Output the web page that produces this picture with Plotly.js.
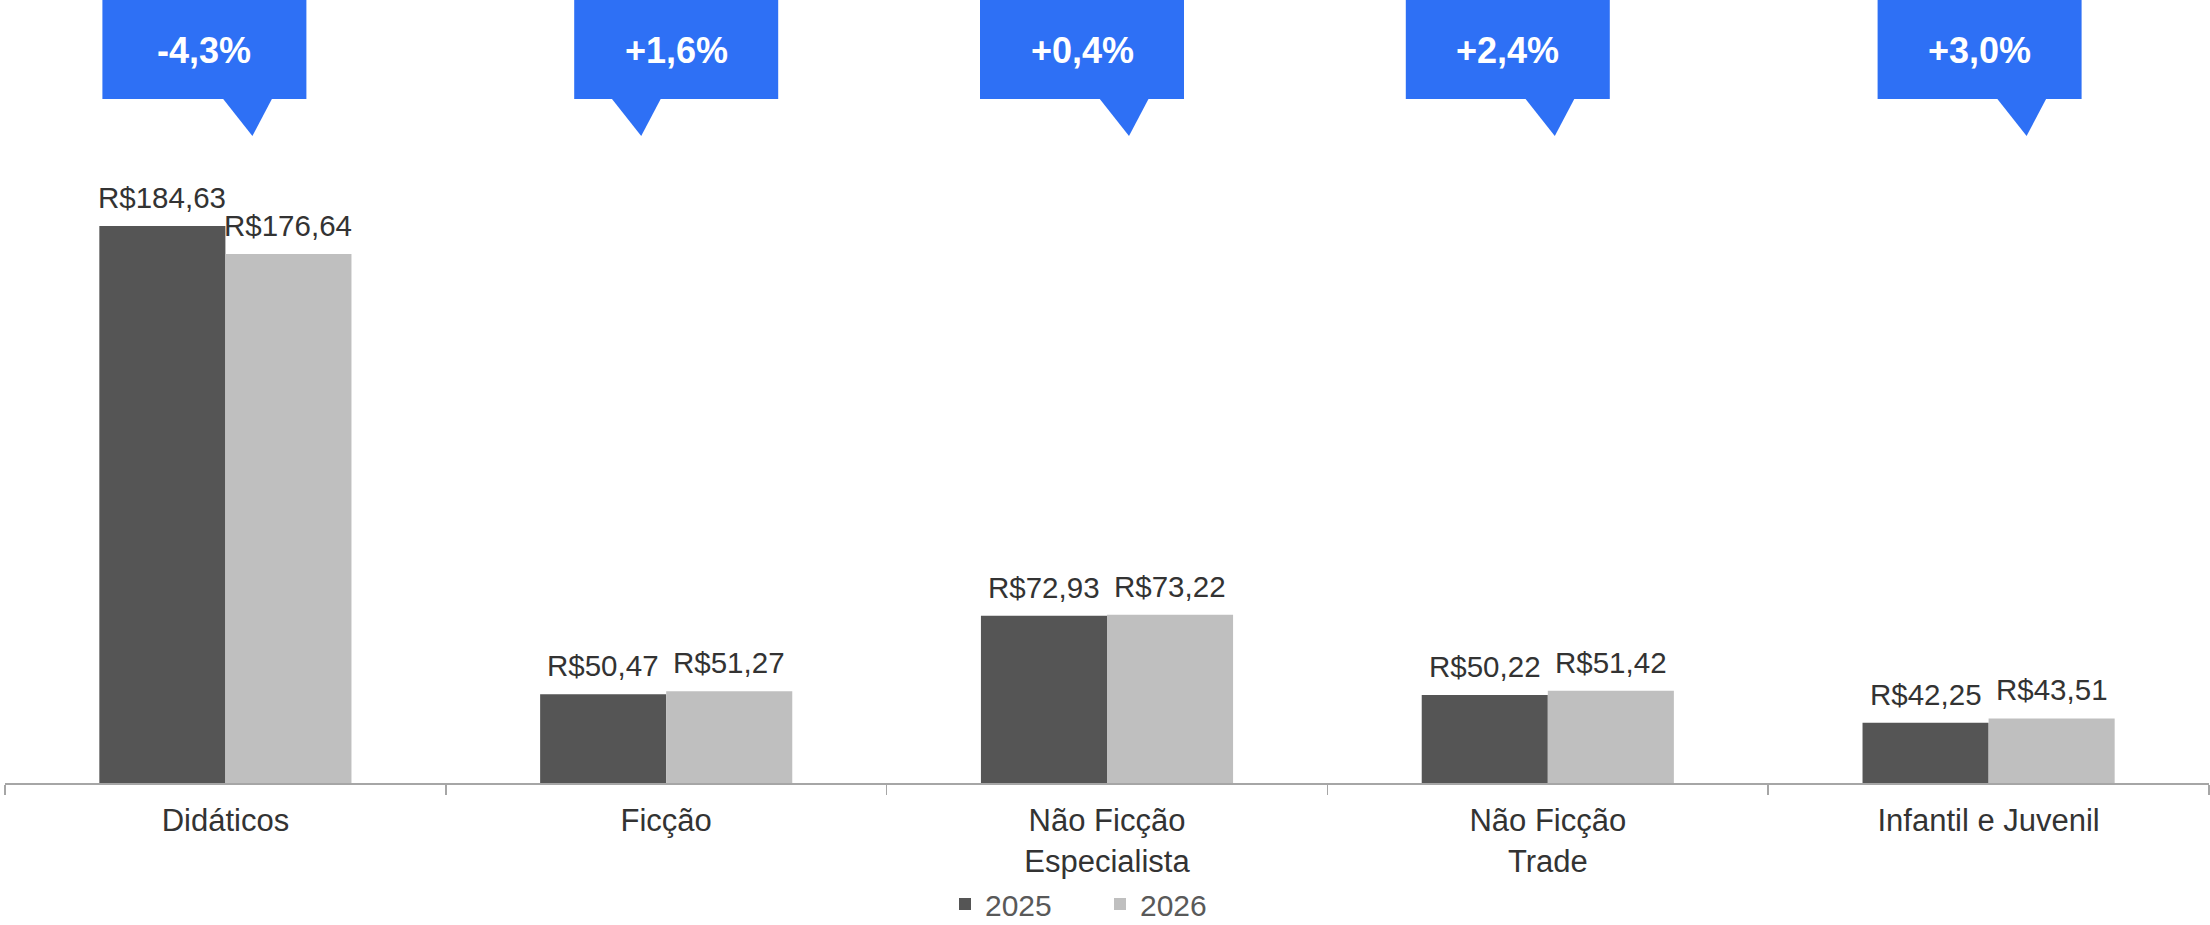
<!DOCTYPE html>
<html>
<head>
<meta charset="utf-8">
<script src="https://cdn.plot.ly/plotly-3.0.1.min.js"></script>
<style>
  html, body { margin: 0; padding: 0; background: #ffffff; }
  #chart { width: 2210px; height: 925px; }
</style>
</head>
<body>
<div id="chart"></div>
<script>
// ---- data ----
const categories = ['Didáticos', 'Ficção', 'Não Ficção<br>Especialista', 'Não Ficção<br>Trade', 'Infantil e Juvenil'];
const seriesNames = ['2025', '2026'];
const values2025 = [184.63, 50.47, 72.93, 50.22, 42.25];
const values2026 = [176.64, 51.27, 73.22, 51.42, 43.51];

// ---- styling / layout constants ----
const W = 2210, H = 925;
const M = { l: 5, r: 1, t: 0, b: 142 };
const plotW = W - M.l - M.r;
const plotH = H - M.t - M.b;
const catW = plotW / categories.length;
const bargap = 0.428;
const barHalf = catW * (1 - bargap) / 4;   // half of one bar's width in px
const FONT = '"Liberation Sans", Arial, sans-serif';
const colDark = '#555555', colLight = '#bfbfbf', colBox = '#2e70f5';

// callout placement relative to the category centre, in pixels
const calloutStyle = [
  { box: -21, tip: 27 },
  { box: 10, tip: -25 },
  { box: -25, tip: 22 },
  { box: -40, tip: 7 },
  { box: -9, tip: 38 }
];
const boxW = 204, boxTopPx = 0, boxBotPx = 99, tipPx = 136;

function money(v) { return 'R$' + v.toFixed(2).replace('.', ','); }
function change(a, b) {
  const p = (b / a - 1) * 100;
  return (p >= 0 ? '+' : '') + p.toFixed(1).replace('.', ',') + '%';
}
const pxToPaperX = px => px / plotW;              // px measured from plot left
const pxToPaperY = py => (plotH - (py - M.t)) / plotH; // py measured from page top

const traces = [
  { type: 'bar', name: seriesNames[0], x: categories, y: values2025, marker: { color: colDark }, hoverinfo: 'skip' },
  { type: 'bar', name: seriesNames[1], x: categories, y: values2026, marker: { color: colLight }, hoverinfo: 'skip' }
];

const annotations = [];
const shapes = [];
categories.forEach((c, i) => {
  [[values2025, -1], [values2026, 1]].forEach(([arr, side]) => {
    annotations.push({
      x: c, xref: 'x', y: arr[i], yref: 'y',
      text: money(arr[i]), showarrow: false,
      xanchor: 'center', yanchor: 'bottom',
      xshift: side * barHalf, yshift: 10,
      font: { family: FONT, size: 29.5, color: '#333333' }
    });
  });
  const cx = catW * (i + 0.5);
  const st = calloutStyle[i];
  const bx0 = cx + st.box - boxW / 2, bx1 = cx + st.box + boxW / 2;
  const tx = cx + st.tip;
  shapes.push({
    type: 'rect', xref: 'paper', yref: 'paper',
    x0: pxToPaperX(bx0), x1: pxToPaperX(bx1),
    y0: pxToPaperY(boxBotPx), y1: pxToPaperY(boxTopPx) ,
    fillcolor: colBox, line: { width: 0 }, layer: 'above'
  });
  const yb = pxToPaperY(boxBotPx - 1), yt = pxToPaperY(tipPx);
  shapes.push({
    type: 'path', xref: 'paper', yref: 'paper',
    path: 'M ' + pxToPaperX(tx - 30) + ' ' + yb + ' L ' + pxToPaperX(tx + 20) + ' ' + yb +
          ' L ' + pxToPaperX(tx) + ' ' + yt + ' Z',
    fillcolor: colBox, line: { width: 0 }, layer: 'above'
  });
  annotations.push({
    xref: 'paper', yref: 'paper',
    x: pxToPaperX(cx + st.box), y: pxToPaperY((boxTopPx + boxBotPx) / 2 + 1),
    xanchor: 'center', yanchor: 'middle', showarrow: false,
    text: '<b>' + change(values2025[i], values2026[i]) + '</b>',
    font: { family: FONT, size: 36, color: '#ffffff' }
  });
});

const layout = {
  width: W, height: H,
  margin: { l: M.l, r: M.r, t: M.t, b: M.b, autoexpand: false },
  paper_bgcolor: '#ffffff', plot_bgcolor: '#ffffff',
  barmode: 'group', bargap: bargap, bargroupgap: 0,
  font: { family: FONT, size: 28, color: '#333333' },
  showlegend: true,
  legend: {
    orientation: 'h', x: pxToPaperX(945 - M.l), xanchor: 'left',
    y: pxToPaperY(878), yanchor: 'top',
    entrywidth: 110, entrywidthmode: 'pixels',
    font: { family: FONT, size: 30, color: '#595959' },
    bgcolor: 'rgba(0,0,0,0)', traceorder: 'normal'
  },
  xaxis: {
    type: 'category', range: [-0.5, categories.length - 0.5],
    showline: true, linecolor: '#a6a6a6', linewidth: 2,
    ticks: 'outside', tickson: 'boundaries', ticklen: 10, tickcolor: '#a6a6a6', tickwidth: 1.5,
    showgrid: false, zeroline: false,
    tickfont: { family: FONT, size: 31, color: '#333333' },
    ticklabelstandoff: 9, fixedrange: true
  },
  yaxis: {
    range: [25, 249.4], visible: false, showgrid: false, zeroline: false, fixedrange: true
  },
  shapes: shapes,
  annotations: annotations
};

Plotly.newPlot('chart', traces, layout, { displayModeBar: false, staticPlot: true });
</script>
</body>
</html>
